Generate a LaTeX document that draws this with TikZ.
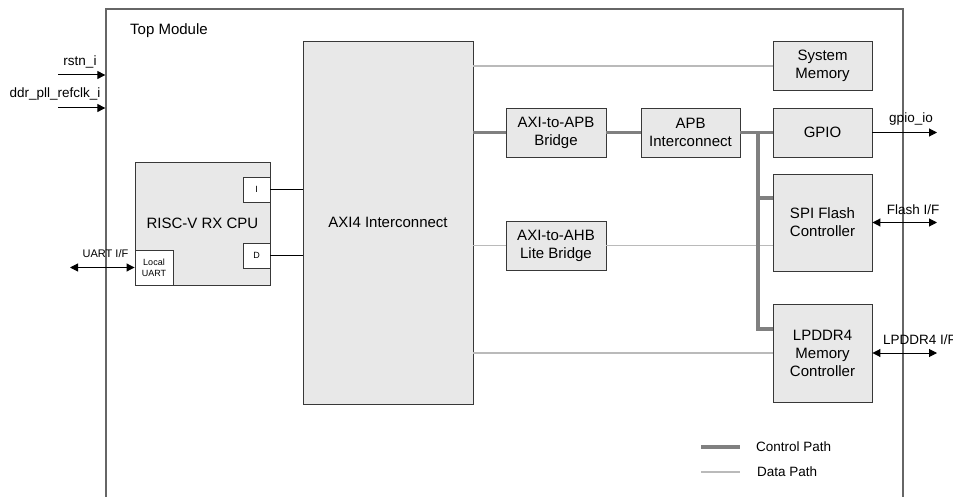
\documentclass[tikz,border=0pt]{standalone}
\usepackage{fontspec}
\setmainfont{Liberation Sans}
\usetikzlibrary{arrows.meta,calc}
\begin{document}
\begin{tikzpicture}[x=1pt,y=-1pt,
  blk/.style={draw=black!78, fill=black!9, line width=0.9pt, align=center,
    inner sep=0pt, font=\fontsize{15}{18}\selectfont},
  portbox/.style={draw=black!78, fill=white, line width=0.9pt, align=center,
    inner sep=0pt, font=\fontsize{9}{11}\selectfont},
  ctrl/.style={draw=black!50, line width=3.5pt},
  datal/.style={draw=black!27, line width=1.6pt},
  sig/.style={draw=black, line width=1pt},
  arr/.style={-{Triangle[length=8pt,width=8pt]}},
  biarr/.style={{Triangle[length=8pt,width=8pt]}-{Triangle[length=8pt,width=8pt]}},
  lbl/.style={font=\fontsize{13.5}{16}\selectfont, inner sep=0pt},
  frame/.style={draw=black!60, line width=1.3pt}]
\useasboundingbox (0,0) rectangle (953,497);

% enclosing top-level module (open at the bottom of the page)
\node[frame, minimum width=797pt, minimum height=511pt, inner sep=0pt] (top) at (504.5,264.5) {};
\node[anchor=west, inner sep=0pt, font=\fontsize{15}{18}\selectfont] (toplbl) at (130,31) {Top Module};

% CPU with its ports
\node[blk, minimum width=135pt, minimum height=123pt] (cpu) at (202.5,223.5) {RISC-V RX CPU};
\node[portbox, minimum width=27pt, minimum height=25pt] (ip) at (256.5,189.5) {I};
\node[portbox, minimum width=27pt, minimum height=25pt] (dp) at (256.5,255.5) {D};
\node[portbox, minimum width=38pt, minimum height=35pt] (uart) at (154,267.5) {Local\\UART};

% interconnect and peripherals
\node[blk, minimum width=170pt, minimum height=363pt] (axi) at (388,222.5) {AXI4 Interconnect};
\node[blk, minimum width=99pt, minimum height=49pt] (sysmem) at (822.5,66) {System\\Memory};
\node[blk, minimum width=100pt, minimum height=49pt] (apbbr) at (556,132.5) {AXI-to-APB\\Bridge};
\node[blk, minimum width=99pt, minimum height=49pt] (apbic) at (690.5,132.5) {APB\\Interconnect};
\node[blk, minimum width=99pt, minimum height=49pt] (gpio) at (822.5,132.5) {GPIO};
\node[blk, minimum width=99pt, minimum height=97pt] (spi) at (822.5,222.5) {SPI Flash\\Controller};
\node[blk, minimum width=100pt, minimum height=49pt] (ahb) at (556,245.5) {AXI-to-AHB\\Lite Bridge};
\node[blk, minimum width=99pt, minimum height=98pt] (lpddr) at (822.5,353) {LPDDR4\\Memory\\Controller};

% CPU bus ports
\draw[sig] (ip.east) -- (ip.east -| axi.west);
\draw[sig] (dp.east) -- (dp.east -| axi.west);

% data paths
\draw[datal] (axi.east |- sysmem.west) -- (sysmem.west);
\draw[datal] (axi.east |- ahb.west) -- (ahb.west);
\draw[datal] (ahb.east) -- (spi.west |- ahb.east);
\draw[datal] (axi.east |- lpddr.west) -- (lpddr.west);

% control paths
\coordinate (busx) at (758,0);
\coordinate (spitap) at ($(spi.west)+(0,-24.5)$);
\coordinate (ddrtap) at ($(lpddr.west)+(0,-24)$);
\draw[ctrl] (axi.east |- apbbr.west) -- (apbbr.west);
\draw[ctrl] (apbbr.east) -- (apbic.west);
\draw[ctrl] (apbic.east) -- (gpio.west);
\draw[ctrl] (busx |- apbic.east) |- (ddrtap);
\draw[ctrl] (busx |- spitap) -- (spitap);

% external ports
\coordinate (rst) at (58,75);
\coordinate (clk) at (58,108);
\coordinate (uartx) at (70,0);
\coordinate (extx) at (937,0);
\draw[sig, arr] (rst) -- (rst -| top.west);
\draw[sig, arr] (clk) -- (clk -| top.west);
\draw[sig, biarr] (uartx |- uart.west) -- (uart.west);
\draw[sig, arr] (gpio.east) -- (extx |- gpio.east);
\draw[sig, biarr] (spi.east) -- (extx |- spi.east);
\draw[sig, biarr] (lpddr.east) -- (extx |- lpddr.east);

\node[lbl] (rstlbl) at (80,62) {rstn\_i};
\node[lbl] (clklbl) at (55,94) {ddr\_pll\_refclk\_i};
\node[lbl, font=\fontsize{11}{13}\selectfont] (uartlbl) at (105.5,254) {UART I/F};
\node[lbl] (gpiolbl) at (911,119) {gpio\_io};
\node[lbl] (flashlbl) at (913,210) {Flash I/F};
\node[lbl, anchor=west] (ddrlbl) at (883,340) {LPDDR4 I/F};

% legend
\coordinate (lgc) at (701,447);
\coordinate (lgd) at (701,472);
\draw[ctrl] (lgc) -- ++(39,0);
\draw[datal] (lgd) -- ++(39,0);
\node[lbl, anchor=west] (lgctext) at (756,447) {Control Path};
\node[lbl, anchor=west] (lgdtext) at (757,472) {Data Path};
\end{tikzpicture}
\end{document}
